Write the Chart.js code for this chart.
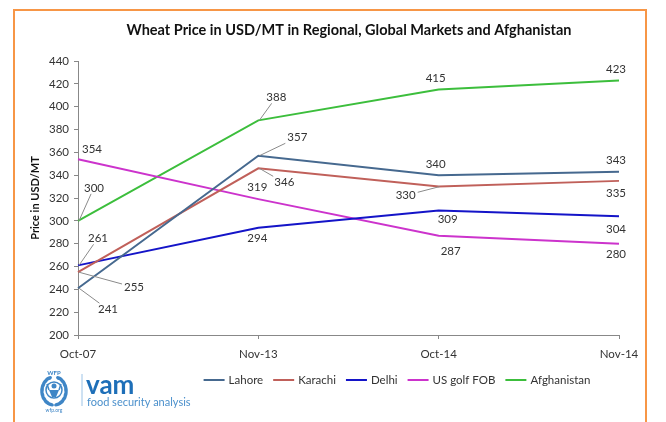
<!DOCTYPE html>
<html>
<head>
<meta charset="utf-8">
<script src="https://cdn.jsdelivr.net/npm/chart.js@4.4.1/dist/chart.umd.min.js"></script>
<style>
html,body{margin:0;padding:0;background:#fff;}
#wrap{position:relative;width:666px;height:422px;}
canvas{display:block;}
</style>
</head>
<body>
<div id="wrap"><canvas id="c" width="666" height="422"></canvas></div>
<script>
// ---- data ----
const categories = ["Oct-07", "Nov-13", "Oct-14", "Nov-14"];
const lahore = [241, 357, 340, 343];
const karachi = [255, 346, 330, 335];
const delhi = [261, 294, 309, 304];
const usGolfFob = [354, 319, 287, 280];
const afghanistan = [300, 388, 415, 423];
const seriesNames = ["Lahore", "Karachi", "Delhi", "US golf FOB", "Afghanistan"];
const yTicks = [200, 220, 240, 260, 280, 300, 320, 340, 360, 380, 400, 420, 440];

// ---- styling ----
const colors = ["#46698F", "#C0605A", "#1414C8", "#CC33CC", "#3CBE3C"];
const FONT = 'Lato, "Open Sans", "Liberation Sans", sans-serif';
// label offsets (px) from each point to label centre, and whether a leader line is drawn
const labelOffsets = [
  [[30, 21, 1], [39, -18, 1], [-3, -11, 0], [-3, -11, 0]],
  [[56, 15, 1], [26, 14, 1], [-33, 9, 1], [-3, 12, 0]],
  [[20, -27, 1], [-1, 11, 0], [9, 9, 0], [-3, 13, 0]],
  [[14, -10, 0], [-1, -12, 0], [12, 16, 0], [-3, 11, 0]],
  [[16, -33, 1], [18, -23, 1], [-3, -11, 0], [-3, -11, 0]]
];

const seriesData = [lahore, karachi, delhi, usGolfFob, afghanistan];

const labelPlugin = {
  id: 'labels',
  afterDatasetsDraw(chart) {
    const ctx = chart.ctx;
    ctx.save();
    ctx.font = '11.5px ' + FONT;
    ctx.textAlign = 'center';
    ctx.textBaseline = 'middle';
    chart.data.datasets.forEach((ds, di) => {
      const meta = chart.getDatasetMeta(di);
      meta.data.forEach((pt, i) => {
        const off = labelOffsets[di][i];
        const lx = pt.x + off[0], ly = pt.y + off[1];
        const txt = String(ds.data[i]);
        if (off[2]) {
          const w = ctx.measureText(txt).width / 2 + 2, h = 6;
          const dx = pt.x - lx, dy = pt.y - ly;
          const t = Math.min(Math.abs(dx) > 0 ? w / Math.abs(dx) : 1e9, Math.abs(dy) > 0 ? h / Math.abs(dy) : 1e9);
          const ex = lx + dx * t, ey = ly + dy * t;
          ctx.strokeStyle = '#8a8a8a';
          ctx.lineWidth = 1;
          ctx.beginPath();
          ctx.moveTo(pt.x + 1, pt.y);
          ctx.lineTo(ex, ey);
          ctx.stroke();
        }
        ctx.fillStyle = '#333';
        ctx.fillText(txt, lx, ly);
      });
    });
    ctx.restore();
  },
  afterDraw(chart) {
    const ctx = chart.ctx;
    ctx.save();
    // frame
    ctx.strokeStyle = '#F79646';
    ctx.lineWidth = 2;
    ctx.beginPath();
    ctx.moveTo(14, 430); ctx.lineTo(14, 10); ctx.lineTo(646, 10); ctx.lineTo(646, 430);
    ctx.stroke();
    // title
    ctx.fillStyle = '#111';
    ctx.font = 'bold 14.5px ' + FONT;
    ctx.textAlign = 'center';
    ctx.textBaseline = 'middle';
    ctx.fillText('Wheat Price in USD/MT in Regional, Global Markets and Afghanistan', 349, 30);
    // legend
    ctx.font = '11.5px ' + FONT;
    ctx.textAlign = 'left';
    const lineLen = 21, gap = 4, itemGap = 10;
    let total = 0;
    const widths = chart.data.datasets.map(d => ctx.measureText(d.label).width);
    widths.forEach(w => total += lineLen + gap + w);
    total += itemGap * (widths.length - 1);
    let x = 397 - total / 2;
    const ly = 380;
    chart.data.datasets.forEach((d, i) => {
      ctx.strokeStyle = d.borderColor;
      ctx.lineWidth = 2;
      ctx.beginPath(); ctx.moveTo(x, ly); ctx.lineTo(x + lineLen, ly); ctx.stroke();
      x += lineLen + gap;
      ctx.fillStyle = '#333';
      ctx.fillText(d.label, x, ly);
      x += widths[i] + itemGap;
    });
    // logo
    const cx = 54, cy = 391;
    ctx.strokeStyle = '#3F86C6';
    ctx.fillStyle = '#3F86C6';
    ctx.lineWidth = 1.5;
    for (let s = -1; s <= 1; s += 2) {
      for (let k = 0; k < 8; k++) {
        const a = Math.PI / 2 + s * (0.3 + k * 0.34);
        const px = cx + Math.cos(a) * 12, py = cy + Math.sin(a) * 14;
        ctx.beginPath();
        ctx.ellipse(px, py, 3.5, 1.8, a + Math.PI / 2, 0, Math.PI * 2);
        ctx.fill();
      }
    }
    ctx.beginPath(); ctx.arc(cx, cy - 1, 8, 0, Math.PI * 2); ctx.stroke();
    ctx.beginPath(); ctx.arc(cx, cy - 5, 2.5, 0, Math.PI * 2); ctx.fill();
    ctx.beginPath(); ctx.moveTo(cx - 5, cy - 1); ctx.lineTo(cx + 5, cy - 1); ctx.lineTo(cx + 2, cy + 6); ctx.lineTo(cx - 2, cy + 6); ctx.closePath(); ctx.fill();
    ctx.beginPath(); ctx.moveTo(cx - 5, cy - 1); ctx.lineTo(cx - 7, cy - 7); ctx.moveTo(cx + 5, cy - 1); ctx.lineTo(cx + 7, cy - 7); ctx.stroke();
    ctx.font = 'bold 6px ' + FONT;
    ctx.textAlign = 'center';
    ctx.fillText('WFP', cx, 373);
    ctx.font = '5px ' + FONT;
    ctx.fillText('wfp.org', cx, 410);
    ctx.strokeStyle = '#9cc3e6';
    ctx.lineWidth = 1;
    ctx.beginPath(); ctx.moveTo(82, 374); ctx.lineTo(82, 406); ctx.stroke();
    ctx.textAlign = 'left';
    ctx.textBaseline = 'alphabetic';
    ctx.fillStyle = '#1E6FB8';
    ctx.font = 'bold 26px ' + FONT;
    ctx.fillText('vam', 86, 394);
    ctx.fillStyle = '#4B90CC';
    ctx.font = '11px ' + FONT;
    ctx.fillText('food security analysis', 87, 406);
    ctx.restore();
  }
};

new Chart(document.getElementById('c'), {
  type: 'line',
  data: {
    labels: categories,
    datasets: seriesNames.map((n, i) => ({
      label: n,
      data: seriesData[i],
      borderColor: colors[i],
      backgroundColor: colors[i],
      borderWidth: 2,
      pointRadius: 0,
      tension: 0,
      fill: false
    }))
  },
  options: {
    responsive: false,
    animation: false,
    devicePixelRatio: 1,
    layout: { padding: { left: 25, right: 47, top: 61, bottom: 0 } },
    plugins: { legend: { display: false }, tooltip: { enabled: false }, title: { display: false } },
    scales: {
      x: {
        offset: false,
        grid: { drawOnChartArea: false, drawTicks: true, tickLength: 4, color: '#888' },
        border: { display: true, color: '#888', width: 1 },
        ticks: { color: '#333', font: { family: FONT, size: 11.5 }, padding: 8, maxRotation: 0 },
        afterFit(s) { s.height = 87; }
      },
      y: {
        min: 200, max: 440,
        afterBuildTicks(s) { s.ticks = yTicks.map(v => ({ value: v })); },
        grid: { drawOnChartArea: false, drawTicks: true, tickLength: 4, color: '#888' },
        border: { display: true, color: '#888', width: 1 },
        ticks: { color: '#333', font: { family: FONT, size: 11.5 }, padding: 5 },
        title: { display: true, text: 'Price in USD/MT', color: '#111', font: { family: FONT, size: 11, weight: 'bold' }, padding: { top: 4, bottom: 4 } },
        afterFit(s) { s.width = 53; }
      }
    }
  },
  plugins: [labelPlugin]
});
</script>
</body>
</html>
